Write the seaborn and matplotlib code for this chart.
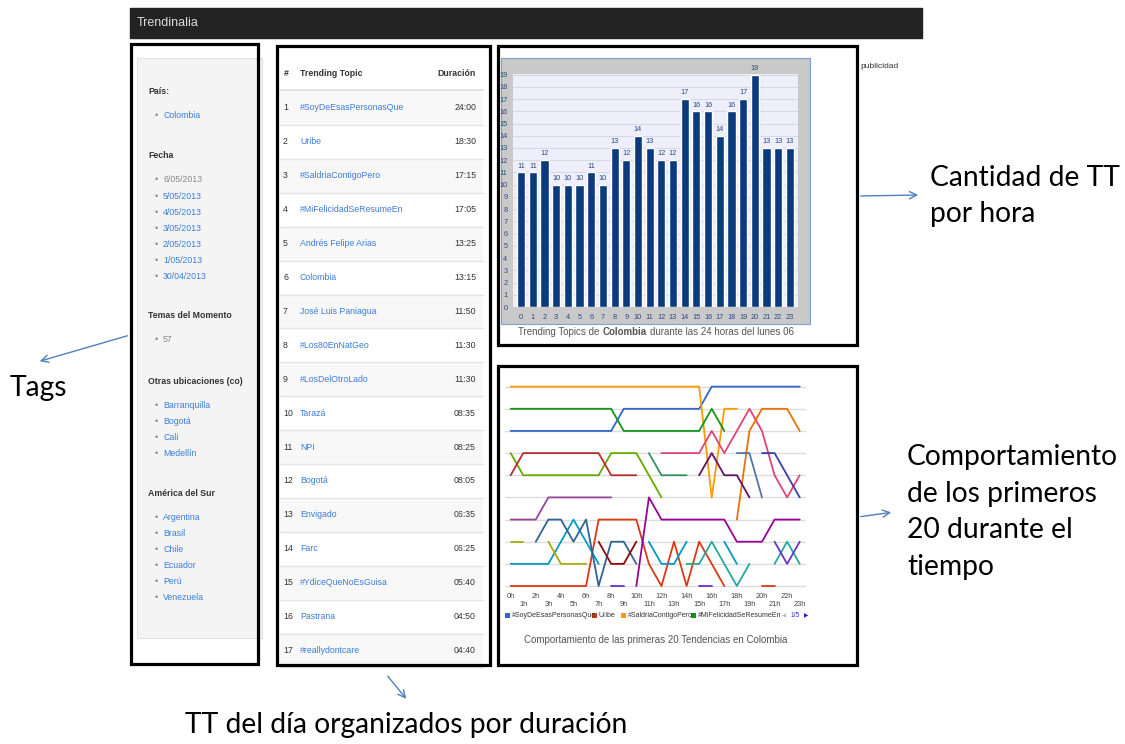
import numpy as np
import pandas as pd
import matplotlib
matplotlib.use("Agg")
import matplotlib.pyplot as plt
from matplotlib.patches import Rectangle
import seaborn as sns

W, H = 1125, 744

# ---- datos grafico de barras (TT por hora)
horas = list(range(24))
tt_por_hora = [11, 11, 12, 10, 10, 10, 11, 10, 13, 12, 14, 13, 12, 12,
               17, 16, 16, 14, 16, 17, 19, 13, 13, 13]

# ---- tabla de TT del dia
topics = ["#SoyDeEsasPersonasQue", "Uribe", "#SaldriaContigoPero", "#MiFelicidadSeResumeEn",
          "Andrés Felipe Arias", "Colombia", "José Luis Paniagua", "#Los80EnNatGeo",
          "#LosDelOtroLado", "Tarazá", "NPI", "Bogotá", "Envigado", "Farc",
          "#YdiceQueNoEsGuisa", "Pastrana", "#reallydontcare"]
duraciones = ["24:00", "18:30", "17:15", "17:05", "13:25", "13:15", "11:50", "11:30",
              "11:30", "08:35", "08:25", "08:05", "06:35", "06:25", "05:40", "04:50", "04:40"]

# ---- panel de tags
paises = ["Colombia"]
fechas = ["6/05/2013", "5/05/2013", "4/05/2013", "3/05/2013", "2/05/2013", "1/05/2013", "30/04/2013"]
temas = ["57"]
otras_ubicaciones = ["Barranquilla", "Bogotá", "Cali", "Medellín"]
america_sur = ["Argentina", "Brasil", "Chile", "Ecuador", "Perú", "Venezuela"]

# ---- posicion (ranking) de cada tendencia por hora, None = fuera del top 10
N = None
r_soy = [3, 3, 3, 3, 3, 3, 3, 3, 3, 2, 2, 2, 2, 2, 2, 2, 1, 1, 1, 1, 1, 1, 1, 1]
r_uribe = [10, 10, 10, 10, 10, 10, 10, 7, 7, 7, 7, 9, 10, 8, 10, 8, 9, 10, N, N, 10, 10, N, N]
r_saldria = [1, 1, 1, 1, 1, 1, 1, 1, 1, 1, 1, 1, 1, 1, 1, 1, 6, 2, 2, N, N, N, N, N]
r_felicidad = [2, 2, 2, 2, 2, 2, 2, 2, 2, 3, 3, 3, 3, 3, 3, 3, 2, 3, N, N, N, N, N, N]
r_andres = [N, N, N, N, N, N, N, N, N, N, 10, 6, 7, 7, 7, 7, 7, 7, 8, 8, 8, 7, 7, 7]
r_colombia = [9, 9, 9, 9, 8, 7, 8, 9, N, N, N, 8, 9, 9, 8, N, N, 8, 9, N, N, N, N, N]
r_jose = [N, N, N, N, N, N, N, N, N, N, N, N, 4, 4, 4, 4, 3, 4, 3, 2, 3, 5, 6, 5]
r_los80 = [4, 5, 5, 5, 5, 5, 5, 5, 4, 4, 4, 5, 6, N, N, N, N, N, N, N, N, N, N, N]
r_losdel = [5, 4, 4, 4, 4, 4, 4, 4, 5, 5, 5, N, N, N, N, N, N, N, N, N, N, N, N, N]
r_taraza = [N, N, 8, 7, 7, 8, 7, 10, 8, 8, 9, N, N, N, N, N, N, N, N, N, N, N, N, N]
r_npi = [7, 7, 7, 6, 6, 6, 6, 6, 6, N, N, N, N, N, N, N, N, N, N, N, N, N, N, N]
r_bogota = [N, N, N, N, N, N, N, N, N, N, N, N, N, N, 9, 9, 8, 9, 10, 9, N, 9, 8, 9]
r_envigado = [8, 8, N, 8, 9, 9, 9, N, N, N, N, N, N, N, N, N, N, N, N, N, N, N, N, N]
r_farc = [N, N, N, N, N, N, N, N, 10, 10, N, N, N, N, N, 10, 10, N, N, N, N, 8, 9, 8]
r_ydice = [N, N, N, N, N, N, N, N, N, N, N, N, N, N, N, N, N, N, 7, 3, 2, 2, 2, 3]
r_pastrana = [N, N, N, N, N, N, N, 8, 9, 9, 8, N, N, N, N, N, N, N, N, N, N, N, N, N]
r_really = [N, N, N, N, N, N, N, N, N, N, N, N, N, N, N, 5, 4, 5, 5, 6, N, N, N, N]
r_tt18 = [N, N, N, N, N, N, N, N, N, N, N, 4, 5, 5, 5, N, N, N, N, N, N, N, N, N]
r_tt19 = [N, N, N, N, N, N, N, N, N, N, N, N, N, N, N, N, N, N, 4, 4, 6, N, N, N]
r_tt20 = [N, N, N, N, N, N, N, N, N, N, N, N, N, N, N, N, N, N, N, N, 4, 4, 5, 6]

nombres = topics + ["TT18", "TT19", "TT20"]
series = [r_soy, r_uribe, r_saldria, r_felicidad, r_andres, r_colombia, r_jose, r_los80,
          r_losdel, r_taraza, r_npi, r_bogota, r_envigado, r_farc, r_ydice, r_pastrana,
          r_really, r_tt18, r_tt19, r_tt20]
colores = ["#3366cc", "#dc3912", "#ff9900", "#109618", "#990099", "#0099c6", "#dd4477",
           "#66aa00", "#b82e2e", "#316395", "#994499", "#22aa99", "#aaaa11", "#6633cc",
           "#e67300", "#8b0707", "#651067", "#329262", "#5574a6", "#3b3eac"]

# tabla larga, un "unit" por tramo continuo
filas = []
for nom, vals in zip(nombres, series):
    tramo = 0
    for h, v in enumerate(vals):
        if v is None:
            tramo += 1
            continue
        filas.append((nom, nom + "_" + str(tramo), h, v))
df = pd.DataFrame(filas, columns=["topic", "tramo", "hora", "rank"])

sns.set_style("white")
plt.rcParams['font.family'] = ['Liberation Sans Narrow', 'Liberation Sans', 'DejaVu Sans']
GRANDE = ['Lato', 'DejaVu Sans']
AZUL = "#3b7dd8"
FS = 6.3
FSG = 20.3

fig = plt.figure(figsize=(W / 100, H / 100), dpi=100)


def px_axes(x0, y0, x1, y1, z=1):
    return fig.add_axes([x0 / W, 1 - y1 / H, (x1 - x0) / W, (y1 - y0) / H], zorder=z)


bg = px_axes(0, 0, W, H, 0)
bg.set_xlim(0, W)
bg.set_ylim(H, 0)
bg.axis("off")

# barra superior
bg.add_patch(Rectangle((130, 8), 792, 30, color="#232323"))
bg.text(137, 23, "Trendinalia", color="#dddddd", fontsize=9, va="center")
bg.text(860, 66, "publicidad", color="#333333", fontsize=6, va="center")

# ---- panel de tags
bg.add_patch(Rectangle((137, 58), 125, 580, facecolor="#f4f4f4", edgecolor="#e2e2e2", lw=0.8))


def bloque(y, titulo, items, gris_primero=False, gris=False):
    bg.text(148, y, titulo, fontsize=FS, fontweight="bold", color="#333333", va="center")
    for i, it in enumerate(items):
        yy = y + 24 + i * 16.1
        bg.text(156, yy, "•", fontsize=6.5, color="#888888", va="center", ha="center")
        c = "#888888" if gris or (gris_primero and i == 0) else AZUL
        bg.text(163, yy, it, fontsize=FS, color=c, va="center")


bloque(91, "País:", paises)
bloque(156, "Fecha", fechas, gris_primero=True)
bloque(316, "Temas del Momento", temas, gris=True)
bloque(381, "Otras ubicaciones (co)", otras_ubicaciones)
bloque(493, "América del Sur", america_sur)

# ---- tabla
bg.text(284, 73, "#", fontsize=FS, fontweight="bold", color="#333333", va="center")
bg.text(300, 73, "Trending Topic", fontsize=FS, fontweight="bold", color="#333333", va="center")
bg.text(476, 73, "Duración", fontsize=FS, fontweight="bold", color="#333333", va="center", ha="right")
bg.plot([280, 483], [89.5, 89.5], color="#dddddd", lw=1.2)
for i, (t, d) in enumerate(zip(topics, duraciones)):
    yc = 108 + i * 33.9
    if i % 2 == 0:
        bg.add_patch(Rectangle((280, yc - 17), 203, 33.9, color="#f8f8f8", lw=0))
    bg.plot([280, 483], [yc + 17, yc + 17], color="#e4e4e4", lw=1)
    bg.text(283, yc, str(i + 1), fontsize=FS, color="#333333", va="center")
    bg.text(300, yc, t, fontsize=FS, color=AZUL, va="center")
    bg.text(476, yc, d, fontsize=FS, color="#333333", va="center", ha="right")

# ---- grafico de barras
bg.add_patch(Rectangle((501, 58), 309, 266, facecolor="#c9c9c9", edgecolor="#7f9fcc", lw=0.8))
ax1 = px_axes(513, 74, 798, 307, 2)
sns.barplot(x=horas, y=tt_por_hora, color="#0b3b7c", saturation=1, width=0.7, ax=ax1, zorder=3)
ax1.set_facecolor("#efeffc")
ax1.set_xlim(-0.7, 23.7)
ax1.set_ylim(0, 19.05)
ax1.set_yticks(range(20))
ax1.yaxis.grid(True, color="#d9d9e3", lw=0.8, zorder=0)
ax1.set_axisbelow(True)
ax1.tick_params(axis="both", length=0, labelsize=5.3, labelcolor="#2b4a85")
ax1.tick_params(axis="x", pad=5)
ax1.tick_params(axis="y", pad=4)
ax1.set_xlabel("")
ax1.set_ylabel("")
for s in ax1.spines.values():
    s.set_visible(False)
ax1.bar_label(ax1.containers[0], fontsize=5.3, color="#2b4a85", padding=2, clip_on=False)

# titulo mixto debajo de las barras
r = fig.canvas.get_renderer()
partes = [("Trending Topics de", "normal"), ("Colombia", "bold"),
          ("durante las 24 horas del lunes 06", "normal")]
hueco = 3
anchos = []
for txt, w in partes:
    t = bg.text(0, 0, txt, fontsize=7, fontweight=w)
    anchos.append(t.get_window_extent(r).width)
    t.remove()
x = 656 - (sum(anchos) + hueco * 2) / 2
for (txt, w), a in zip(partes, anchos):
    bg.text(x, 332, txt, fontsize=7, fontweight=w, color="#555555", va="center")
    x += a + hueco

# ---- grafico de lineas (ranking)
ax2 = px_axes(505, 380, 806, 590, 2)
sns.lineplot(data=df, x="hora", y="rank", hue="topic", units="tramo", estimator=None,
             palette=dict(zip(nombres, colores)), hue_order=nombres, legend=False,
             lw=1.3, ax=ax2, zorder=3)
ax2.set_xlim(-0.45, 23.5)
ax2.set_ylim(10.18, 0.7)
ax2.set_yticks(range(1, 11))
ax2.set_yticklabels([])
ax2.yaxis.grid(True, color="#dddddd", lw=1, zorder=0)
ax2.set_axisbelow(True)
ax2.set_xticks(horas)
ax2.set_xticklabels([f"{h}h" if h % 2 == 0 else f"\n{h}h" for h in horas])
ax2.tick_params(axis="both", length=0, labelsize=5.3, labelcolor="#444444", pad=2)
ax2.set_xlabel("")
ax2.set_ylabel("")
ax2.patch.set_alpha(0)
for s in ax2.spines.values():
    s.set_visible(False)

# leyenda manual (solo 4 primeras, como en la pagina)
ley_x = [505, 592, 621, 691]
for lx, nom, c in zip(ley_x, nombres[:4], colores[:4]):
    bg.add_patch(Rectangle((lx, 612.5), 5, 5.5, color=c, lw=0))
    bg.text(lx + 6.5, 615.5, nom, fontsize=5, color="#333333", va="center")
bg.text(784, 615.5, "◀", fontsize=4, color="#bbbbbb", va="center", ha="center",
        family=['DejaVu Sans'])
bg.text(795, 615.5, "1/5", fontsize=4.8, color="#3333cc", va="center", ha="center")
bg.text(806, 615.5, "▶", fontsize=4, color="#1a1acc", va="center", ha="center",
        family=['DejaVu Sans'])
bg.text(656, 640, "Comportamiento de las primeras 20 Tendencias en Colombia",
        fontsize=7, color="#555555", va="center", ha="center")

# ---- capa superior: recuadros negros, flechas y textos explicativos
ov = px_axes(0, 0, W, H, 10)
ov.set_xlim(0, W)
ov.set_ylim(H, 0)
ov.axis("off")
ov.patch.set_alpha(0)
for (x0, y0, x1, y1) in [(131, 44, 258, 664), (277, 46, 490, 665),
                         (498, 46, 857, 345), (498, 366, 857, 665)]:
    ov.add_patch(Rectangle((x0, y0), x1 - x0, y1 - y0, fill=False, edgecolor="black", lw=2.3))

flecha = dict(arrowstyle="->", color="#4f81bd", lw=1, mutation_scale=13)
ov.annotate("", xy=(37, 362), xytext=(130, 335), arrowprops=flecha)
ov.annotate("", xy=(408, 701), xytext=(386, 674), arrowprops=flecha)
ov.annotate("", xy=(921, 195), xytext=(858, 196), arrowprops=flecha)
ov.annotate("", xy=(894, 512), xytext=(858, 517), arrowprops=flecha)

ov.text(10, 388, "Tags", fontsize=FSG, family=GRANDE, va="center", color="black")
ov.text(930, 178, "Cantidad de TT", fontsize=FSG, family=GRANDE, va="center", color="black")
ov.text(930, 214, "por hora", fontsize=FSG, family=GRANDE, va="center", color="black")
for i, linea in enumerate(["Comportamiento", "de los primeros", "20 durante el", "tiempo"]):
    ov.text(907, 457 + i * 36.7, linea, fontsize=FSG, family=GRANDE, va="center", color="black")
ov.text(185, 725, "TT del día organizados por duración", fontsize=FSG, family=GRANDE,
        va="center", color="black")

plt.savefig("out.png", dpi=100)
